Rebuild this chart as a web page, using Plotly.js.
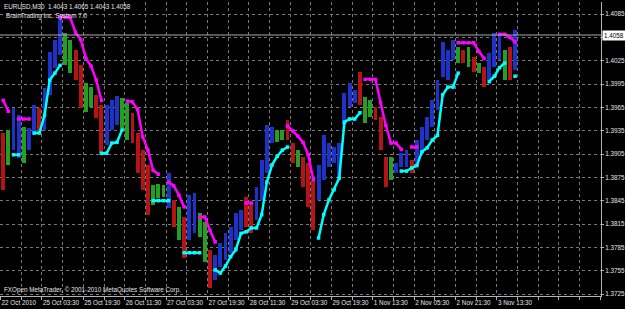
<!DOCTYPE html>
<html><head><meta charset="utf-8">
<script src="https://cdn.plot.ly/plotly-3.0.1.min.js"></script>
<style>html,body{margin:0;padding:0;background:#000;}#chart{width:625px;height:309px;}</style>
</head><body><div id="chart"></div>
<script>
// ---- Data (EURUSD M30, sampled every 4 bars) ----
const highs = [1.3932,1.3936,1.3964,1.3955,1.3940,1.3938,1.3968,1.3964,1.3990,1.4036,
1.4052,1.4080,1.4061,1.4052,1.4039,1.4019,1.3996,1.3991,1.3981,1.3968,
1.3968,1.3974,1.3980,1.3977,1.3971,1.3958,1.3932,1.3910,1.3891,1.3865,
1.3866,1.3865,1.3881,1.3846,1.3837,1.3824,1.3852,1.3855,1.3829,1.3818,
1.3782,1.3775,1.3791,1.3803,1.3811,1.3829,1.3833,1.3850,1.3842,1.3863,
1.3897,1.3942,1.3940,1.3936,1.3936,1.3949,1.3919,1.3910,1.3901,1.3893,
1.3872,1.3891,1.3929,1.3919,1.3914,1.3919,1.3983,1.3996,1.3987,1.4010,
1.3978,1.3974,1.3965,1.3953,1.3901,1.3901,1.3893,1.3906,1.3910,1.3897,
1.3923,1.3940,1.3953,1.3974,1.4000,1.4049,1.4039,1.4052,1.4043,1.4039,
1.4043,1.4030,1.4022,1.4017,1.4035,1.4061,1.4061,1.4039,1.4043,1.4065];
const lows = [1.3859,1.3891,1.3910,1.3900,1.3893,1.3910,1.3929,1.3933,1.3936,1.3981,
1.4016,1.4032,1.4019,1.4009,1.4000,1.3964,1.3959,1.3965,1.3951,1.3906,
1.3917,1.3936,1.3942,1.3938,1.3923,1.3919,1.3881,1.3859,1.3827,1.3839,
1.3848,1.3850,1.3836,1.3811,1.3794,1.3771,1.3794,1.3803,1.3798,1.3766,
1.3733,1.3743,1.3760,1.3769,1.3778,1.3794,1.3807,1.3811,1.3803,1.3820,
1.3846,1.3881,1.3919,1.3920,1.3923,1.3923,1.3893,1.3888,1.3863,1.3837,
1.3807,1.3846,1.3872,1.3888,1.3893,1.3875,1.3942,1.3965,1.3971,1.3968,
1.3945,1.3953,1.3949,1.3910,1.3863,1.3872,1.3881,1.3888,1.3888,1.3881,
1.3888,1.3906,1.3923,1.3940,1.3962,1.4004,1.4000,1.4026,1.4022,1.4022,
1.4017,1.4010,1.4009,1.3991,1.4000,1.4017,1.4026,1.4000,1.4000,1.4013];
const trendColors = ["r","g","b","b","g","b","b","r","b","b",
"b","b","g","g","r","r","g","g","r","r",
"b","b","b","g","g","r","r","r","r","g",
"g","g","b","r","g","r","b","b","g","g",
"r","b","b","b","b","b","b","r","r","b",
"b","b","b","g","g","r","r","g","r","r",
"r","b","b","b","b","b","b","b","b","r",
"g","g","r","r","r","g","b","b","b","r",
"b","b","b","b","b","b","b","b","g","r",
"g","r","g","r","b","b","b","g","r","b"];
const resistance = [1.3974,1.3960,null,1.3950,1.3950,1.3950,null,null,null,null,
null,1.4081,1.4081,1.4080,1.4061,1.4052,1.4028,1.4018,1.4000,1.3974,
null,null,null,null,1.3973,1.3972,1.3962,1.3927,1.3910,1.3884,
1.3879,null,1.3869,1.3864,1.3852,1.3837,null,null,1.3824,1.3824,
1.3807,1.3792,null,null,null,null,null,1.3842,1.3842,null,
null,null,null,null,null,1.3941,1.3935,1.3928,1.3920,1.3904,
1.3872,null,null,null,null,null,null,null,null,null,
1.4001,1.4001,1.4001,1.3971,1.3942,1.3919,1.3919,1.3911,null,1.3914,
1.3914,null,null,null,null,null,null,null,1.4048,1.4048,
1.4048,1.4048,1.4037,1.4028,null,null,1.4059,1.4059,1.4055,1.4049];
const support = [null,null,1.3904,1.3904,null,null,1.3932,1.3932,1.3955,1.4000,
1.4009,1.4019,null,null,null,null,null,null,null,1.3906,
1.3906,1.3919,1.3920,1.3936,null,null,null,null,null,1.3845,
1.3845,1.3845,1.3845,null,null,1.3778,1.3778,1.3778,1.3778,null,
null,1.3756,1.3752,1.3761,1.3773,1.3782,1.3803,1.3805,1.3810,1.3810,
1.3827,1.3869,1.3891,1.3902,1.3910,1.3914,null,null,null,null,
null,1.3797,1.3827,1.3846,1.3859,1.3874,1.3946,1.3950,1.3950,1.3958,
null,null,null,null,null,null,null,1.3883,1.3883,1.3887,
1.3890,1.3908,1.3913,1.3923,1.3929,1.3981,1.3991,1.3991,1.4009,null,
null,null,null,null,1.3998,1.4005,1.4016,1.4022,null,1.4005];
const barsPerSample = 4;
const sampleBar = highs.map((_, i) => i * barsPerSample + barsPerSample / 2);

const xTickBars = [0,16,32,48,64,80,96,112,128,144,160,176,192,208,224,240,256,272,288,304,320,336,352,368,384,400,416,432,448,464];
const xTickText = ["22 Oct 2010","","25 Oct 03:30","","25 Oct 19:30","","26 Oct 11:30","","27 Oct 03:30","","27 Oct 19:30","","28 Oct 11:30","","29 Oct 03:30","","29 Oct 19:30","","1 Nov 13:30","","2 Nov 05:30","","2 Nov 21:30","","3 Nov 13:30","","","","",""];
const yTicks = [1.3725,1.3755,1.3785,1.3815,1.3845,1.3875,1.3905,1.3935,1.3965,1.3995,1.4025,1.4055,1.4085];
const yTickText = ["1.3725","1.3755","1.3785","1.3815","1.3845","1.3875","1.3905","1.3935","1.3965","1.3995","1.4025","1.4055","1.4085"];
const lastClose = 1.4058;
const headerText = "EURUSD,M30  1.4043 1.4065 1.4043 1.4058";
const systemText = "BrainTrading Inc. System 7.0";
const footerText = "FXOpen MetaTrader, © 2001-2010 MetaQuotes Software Corp.";

// ---- Styles ----
const palette = {b: "#1e32c8", r: "#b41414", g: "#22a022"};
const FONT = "Liberation Sans, Arial, sans-serif";
const gridColor = "rgb(120,120,120)";

const traces = [
  {
    type: "bar", x: sampleBar, y: highs.map((h, i) => h - lows[i]), base: lows,
    width: 3.0, marker: {color: trendColors.map(c => palette[c]), line: {width: 0}},
    hoverinfo: "skip"
  },
  {
    type: "scatter", mode: "lines+markers", x: sampleBar, y: resistance,
    line: {color: "#ff00ff", width: 2.5}, marker: {color: "#ff00ff", size: 3.5, symbol: "square"},
    connectgaps: false, hoverinfo: "skip"
  },
  {
    type: "scatter", mode: "lines+markers", x: sampleBar, y: support,
    line: {color: "#00ffff", width: 2.5}, marker: {color: "#00ffff", size: 3.5, symbol: "square"},
    connectgaps: false, hoverinfo: "skip"
  }
];

const layout = {
  width: 625, height: 309,
  margin: {l: 0, r: 24, t: 2, b: 13, pad: 0},
  paper_bgcolor: "#000", plot_bgcolor: "#000",
  showlegend: false, barmode: "overlay", bargap: 0,
  font: {family: FONT, size: 6.3, color: "#e6e6e6"},
  xaxis: {
    range: [-0.46, 464.5], tickmode: "array", tickvals: xTickBars, ticktext: xTickText,
    showgrid: true, gridcolor: gridColor, griddash: "3px,3px", gridwidth: 1,
    zeroline: false, showline: true, linecolor: "#b4b4b4", linewidth: 1,
    ticks: "outside", ticklen: 3, tickcolor: "#b4b4b4",
    ticklabelposition: "outside right", tickangle: 0,
    tickfont: {family: FONT, size: 6.3, color: "#e6e6e6"}, fixedrange: true
  },
  yaxis: {
    range: [1.372243, 1.410043], side: "right", tickmode: "array",
    tickvals: yTicks, ticktext: yTickText,
    showgrid: true, gridcolor: gridColor, griddash: "3px,3px", gridwidth: 1,
    zeroline: false, showline: true, linecolor: "#b4b4b4", linewidth: 1,
    ticks: "outside", ticklen: 2, tickcolor: "#b4b4b4",
    tickfont: {family: FONT, size: 6.3, color: "#e6e6e6"}, fixedrange: true
  },
  shapes: [
    {type: "line", xref: "paper", x0: 0, x1: 1, yref: "y", y0: lastClose, y1: lastClose,
     line: {color: "#a8a8a8", width: 1}, layer: "above"}
  ],
  annotations: [
    {xref: "paper", yref: "y", x: 1, y: lastClose, xanchor: "left", yanchor: "middle",
     xshift: 1, text: lastClose.toFixed(4), showarrow: false, bgcolor: "#ffffff",
     borderpad: 1, font: {family: FONT, size: 6.3, color: "#000"}},
    {xref: "paper", yref: "paper", x: 0, y: 1, xanchor: "left", yanchor: "top",
     xshift: 2, yshift: 1, text: headerText, showarrow: false,
     font: {family: FONT, size: 6.3, color: "#e6e6e6"}},
    {xref: "paper", yref: "paper", x: 0, y: 1, xanchor: "left", yanchor: "top",
     xshift: 4, yshift: -8, text: systemText, showarrow: false,
     font: {family: FONT, size: 6.3, color: "#e6e6e6"}},
    {xref: "paper", yref: "paper", x: 0, y: 0, xanchor: "left", yanchor: "bottom",
     xshift: 2, yshift: 0, text: footerText, showarrow: false,
     font: {family: FONT, size: 6.3, color: "#e6e6e6"}}
  ]
};

Plotly.newPlot("chart", traces, layout, {displayModeBar: false, staticPlot: true});
</script></body></html>
